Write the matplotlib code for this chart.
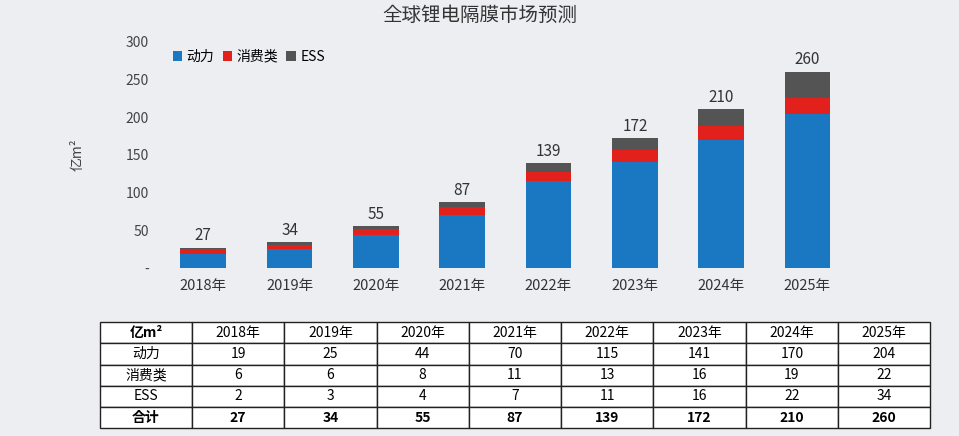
"""Global Li-ion separator market forecast: stacked bars plus data table."""

import matplotlib
matplotlib.use("Agg")
import matplotlib.pyplot as plt
from matplotlib import font_manager
import numpy as np

# register any CJK font files found so the Chinese labels render
cjk_names = []
for path in font_manager.findSystemFonts():
    if "CJK" in path or "cjk" in path:
        try:
            font_manager.fontManager.addfont(path)
            cjk_names.append(font_manager.FontProperties(fname=path).get_name())
        except Exception:
            pass
preferred = [n for n in cjk_names if "SC" in n] + cjk_names
plt.rcParams["font.family"] = "sans-serif"
plt.rcParams["font.sans-serif"] = preferred[:1] + ["Noto Sans CJK SC", "Noto Sans CJK JP", "DejaVu Sans"]

years = ["2018年", "2019年", "2020年", "2021年", "2022年", "2023年", "2024年", "2025年"]
power = [19, 25, 44, 70, 115, 141, 170, 204]
consumer = [6, 6, 8, 11, 13, 16, 19, 22]
ess = [2, 3, 4, 7, 11, 16, 22, 34]
total = [27, 34, 55, 87, 139, 172, 210, 260]

BLUE, RED, GRAY = "#1a78c2", "#e3211c", "#545454"
BG = "#eceef2"

fig = plt.figure(figsize=(9.59, 4.36), dpi=100, facecolor=BG)
fig.text(0.5, 0.965, "全球锂电隔膜市场预测", ha="center", va="center", fontsize=14, color="#333333")

ax = fig.add_axes([0.167, 0.385, 0.72, 0.519], facecolor=BG)
x = np.arange(len(years))
w = 0.53
ax.bar(x, power, w, color=BLUE, label="动力")
ax.bar(x, consumer, w, bottom=power, color=RED, label="消费类")
bottom2 = np.array(power) + np.array(consumer)
ax.bar(x, ess, w, bottom=bottom2, color=GRAY, label="ESS")
for xi, t in zip(x, total):
    ax.text(xi, t + 5, str(t), ha="center", va="bottom", fontsize=11, color="#333333")

ax.set_xlim(-0.5, 7.5)
ax.set_ylim(0, 300)
ax.set_yticks(range(0, 301, 50))
ax.set_yticklabels(["-"] + [str(v) for v in range(50, 301, 50)], fontsize=10, color="#444444")
ax.set_xticks(x)
ax.set_xticklabels(years, fontsize=10.5, color="#333333")
ax.tick_params(length=0, pad=8)
for s in ax.spines.values():
    s.set_visible(False)
ax.set_ylabel("亿m²", fontsize=10, color="#444444", labelpad=30)
ax.legend(loc="upper left", ncol=3, frameon=False, fontsize=10, handlelength=0.7,
          handletextpad=0.3, columnspacing=0.6, bbox_to_anchor=(0.0, 1.02))

tax = fig.add_axes([0.104, 0.018, 0.866, 0.243])
tax.axis("off")
rows = [["亿m²"] + years,
        ["动力"] + [str(v) for v in power],
        ["消费类"] + [str(v) for v in consumer],
        ["ESS"] + [str(v) for v in ess],
        ["合计"] + [str(v) for v in total]]
tbl = tax.table(cellText=rows, bbox=[0, 0, 1, 1], cellLoc="center")
tbl.auto_set_font_size(False)
for (r, c), cell in tbl.get_celld().items():
    cell.set_facecolor("white")
    cell.set_edgecolor("#222222")
    cell.set_linewidth(1.0)
    cell.get_text().set_fontsize(10)
    if r == 4 or (r == 0 and c == 0):
        cell.get_text().set_fontweight("bold")

fig.savefig("out.png", dpi=100, facecolor=BG)
